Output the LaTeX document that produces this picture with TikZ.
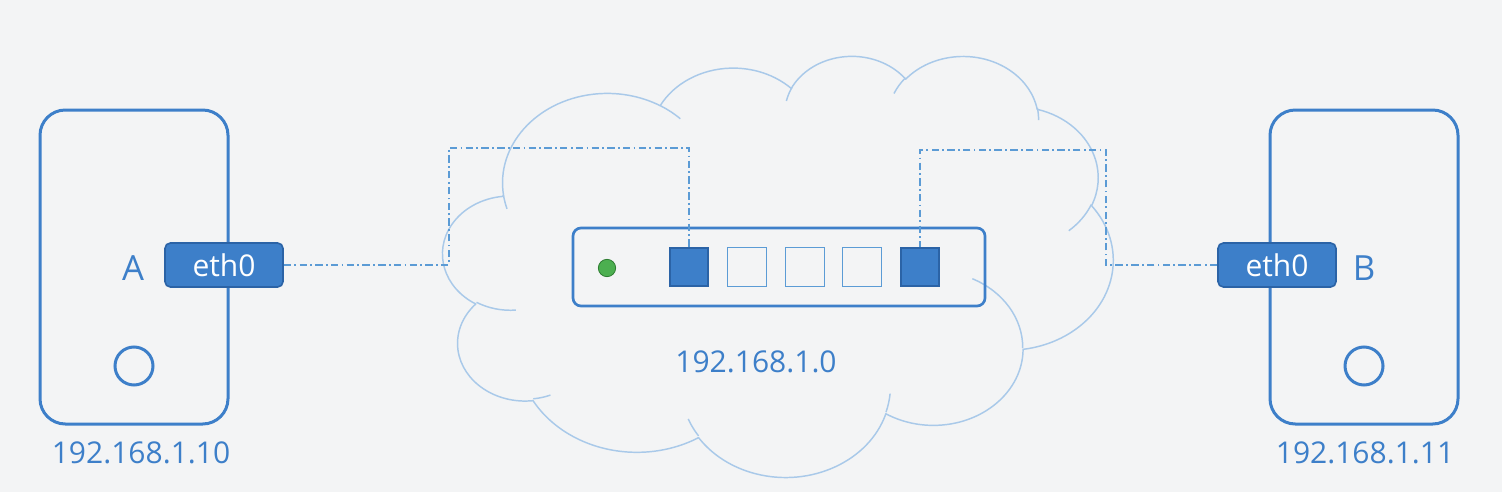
\documentclass[tikz,border=0pt]{standalone}
\usepackage{fontspec}
\setmainfont{Open Sans}
\definecolor{bg}{HTML}{F3F4F5}
\definecolor{hostblue}{HTML}{3D7FC9}
\definecolor{portdark}{HTML}{2B63A6}
\definecolor{lineblue}{HTML}{5B9BD5}
\definecolor{cloudblue}{HTML}{A9C9E9}
\definecolor{ledgreen}{HTML}{4CAF50}
\definecolor{leddark}{HTML}{2E7D32}
% geometric -> parametric ellipse angle (DrawingML arcTo)
\pgfmathdeclarefunction{oopar}{3}{%
  \begingroup
    \pgfmathparse{atan2((#1)*sin(#3),(#2)*cos(#3))}%
    \pgfmathsmuggle\pgfmathresult
  \endgroup}
\pgfmathdeclarefunction{oodel}{4}{%
  \begingroup
    \pgfmathparse{atan2((#1)*sin(#3),(#2)*cos(#3))}\let\oa\pgfmathresult
    \pgfmathparse{atan2((#1)*sin((#3)+(#4)),(#2)*cos((#3)+(#4)))}\let\ob\pgfmathresult
    \pgfmathparse{\ob-\oa+360*round(((#4)-(\ob-\oa))/360)}%
    \pgfmathsmuggle\pgfmathresult
  \endgroup}
\def\cx{0.11632}
\def\cy{0.07309}
\tikzset{
  oo/.style n args={4}{start angle={-oopar(#1,#2,#3)}, delta angle={-oodel(#1,#2,#3,#4)}, x radius={(#1)*\cx pt}, y radius={(#2)*\cy pt}},
  host/.style={draw=hostblue, line width=2.25pt, rounded corners=19pt, minimum width=141pt, minimum height=235.5pt, inner sep=0pt},
  ethbox/.style={fill=hostblue, draw=portdark, line width=1.2pt, rounded corners=4pt, minimum width=88.5pt, minimum height=33pt, inner sep=0pt, text=white, font=\fontsize{22.5}{26}\selectfont},
  switchbox/.style={draw=hostblue, line width=2pt, rounded corners=6pt, minimum width=309pt, minimum height=58.5pt, inner sep=0pt},
  portfull/.style={fill=hostblue, draw=portdark, line width=1.3pt, minimum size=29pt, inner sep=0pt},
  portempty/.style={draw=lineblue, line width=1.1pt, minimum size=29pt, inner sep=0pt},
  led/.style={circle, fill=ledgreen, draw=leddark, line width=0.6pt, minimum size=13pt, inner sep=0pt},
  ring/.style={circle, draw=hostblue, line width=2.25pt, minimum size=28.5pt, inner sep=0pt},
  hostname/.style={text=hostblue, font=\fontsize{26}{30}\selectfont},
  iplabel/.style={text=hostblue, font=\fontsize{22.5}{26}\selectfont},
  link/.style={draw=lineblue, line width=0.9pt, dash pattern=on 5.5pt off 2.5pt on 1.3pt off 2.5pt},
  cloudline/.style={draw=cloudblue, line width=1.1pt}
}
\begin{document}
\begin{tikzpicture}[x=0.75pt, y=-0.75pt]
\fill[bg] (0,0) rectangle (1502,492);
\useasboundingbox (0,0) rectangle (1502,492);

% cloud (drawn directly, PowerPoint-style cloud outline)
\begin{scope}[shift={(332.25pt,-41.25pt)}, x=0.11632pt, y=-0.07309pt]
\draw[cloudline, line join=round] (390,1437)
  arc[oo={675.3}{919.0}{-190.4875}{123.7805}]
  arc[oo={533.3}{726.7}{-144.1024}{89.9452}]
  arc[oo={436.5}{594.5}{-145.8079}{99.7230}]
  arc[oo={485.7}{659.5}{-130.9861}{117.2417}]
  arc[oo={533.3}{727.3}{-78.7089}{109.0269}]
  arc[oo={677.5}{922.0}{-46.2673}{130.2690}]
  arc[oo={578.5}{786.7}{0.6250}{114.0333}]
  arc[oo={675.2}{921.5}{22.4516}{115.1726}]
  arc[oo={772.0}{1054.3}{66.2426}{75.7110}]
  arc[oo={436.0}{591.8}{-274.9421}{146.7356}]
  arc[oo={434.5}{594.5}{-246.8285}{152.5189}]
  -- cycle;
\draw[cloudline]
  (469.3,2617.7) arc[oo={434.5}{594.5}{86.7420}{26.4295}]
  (692.8,3489.9) arc[oo={436.0}{591.8}{73.6105}{11.4475}]
  (1647.8,3909.0) arc[oo={675.2}{921.5}{137.6242}{14.0811}]
  (2882.7,3475.1) arc[oo={675.2}{921.5}{6.4533}{15.9984}]
  (3412.9,2295.4) arc[oo={578.5}{786.7}{-70.2924}{70.9174}]
  (4179.8,1535.4) arc[oo={533.3}{727.3}{30.3180}{27.7515}]
  (3832.4,542.6) arc[oo={485.7}{659.5}{-13.7443}{14.8589}]
  (2907.8,395.2) arc[oo={485.7}{659.5}{-149.1815}{18.1954}]
  (2214.1,472.0) arc[oo={436.5}{594.5}{-163.4943}{17.6864}]
  (1400.0,519.2) arc[oo={675.3}{919.0}{-66.7070}{12.3194}]
  (412.7,1578.9) arc[oo={675.3}{919.0}{157.6544}{11.8582}];
\end{scope}

% hosts
\node[host] (hostA) at (134,267) {};
\node[host] (hostB) at (1364,267) {};
\node[hostname] (lblA) at (133,268) {A};
\node[hostname] (lblB) at (1364,268) {B};
\node[ring] (ringA) at (134,366) {};
\node[ring] (ringB) at (1364,366) {};
\node[ethbox] (ethA) at (224,265) {eth0};
\node[ethbox] (ethB) at (1277,265) {eth0};
\node[iplabel] (ipA) at (141,453) {192.168.1.10};
\node[iplabel] (ipB) at (1365,453) {192.168.1.11};

% switch
\node[switchbox] (sw) at (779,267) {};
\node[led] (led) at (607,268) {};
\node[portfull] (p1) at (689,267) {};
\node[portempty] (p2) at (747,267) {};
\node[portempty] (p3) at (805,267) {};
\node[portempty] (p4) at (862,267) {};
\node[portfull] (p5) at (920,267) {};
\node[iplabel] (ipNet) at (756,362) {192.168.1.0};

% connectors
\coordinate (a1) at (449,265);
\coordinate (a2) at (449,148);
\coordinate (a3) at (689,148);
\coordinate (b1) at (1106,265);
\coordinate (b2) at (1106,150);
\coordinate (b3) at (920,150);
\draw[link] (ethA.east) -- (a1) -- (a2) -- (a3) -- (p1.north);
\draw[link] (ethB.west) -- (b1) -- (b2) -- (b3) -- (p5.north);
\end{tikzpicture}
\end{document}
